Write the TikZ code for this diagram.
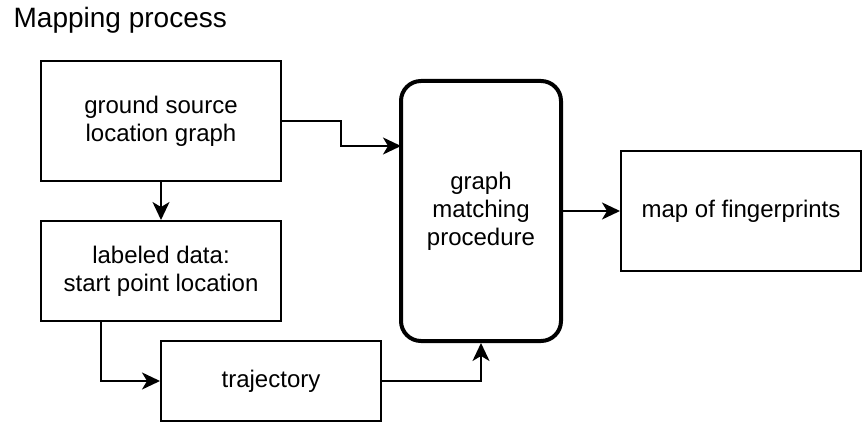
\documentclass[tikz,border=0pt]{standalone}
\usepackage{fontspec}
\setmainfont{Liberation Sans}
\usetikzlibrary{arrows.meta}
\begin{document}
\begin{tikzpicture}[x=0.5pt, y=-0.5pt, line width=1pt,
    font=\fontsize{12}{14}\selectfont,
    box_style/.style={draw=black, rectangle, align=center, inner sep=0pt},
    proc_style/.style={draw=black, rectangle, rounded corners=10pt, line width=2pt, align=center, inner sep=0pt},
    edge_style/.style={draw=black, line width=1pt, -{Stealth[length=9pt, width=8.5pt, inset=2.5pt]}}]

    \useasboundingbox (0,0) rectangle (862,438);

    \node[anchor=west, font=\fontsize{14}{16}\selectfont] (title) at (6,20) {Mapping process};

    \node[box_style, minimum width=120pt, minimum height=60pt] (graph) at (161,121) {ground source\\location graph};
    \node[box_style, minimum width=120pt, minimum height=50pt] (labeled) at (161,271) {labeled data:\\start point location};
    \node[box_style, minimum width=110pt, minimum height=40pt] (traj) at (271,381) {trajectory};
    \node[proc_style, minimum width=80pt, minimum height=130pt] (match) at (481,211) {graph\\matching\\procedure};
    \node[box_style, minimum width=120pt, minimum height=60pt] (map) at (741,211) {map of fingerprints};

    \coordinate (matchIn) at (401,146);

    \draw[edge_style] (graph.east) -| (341,146) -- (matchIn);
    \draw[edge_style] (graph.south) -- (labeled.north);
    \draw[edge_style] ([xshift=-30pt]labeled.south) |- (traj.west);
    \draw[edge_style] (traj.east) -| (match.south);
    \draw[edge_style] (match.east) -- (map.west);
\end{tikzpicture}
\end{document}
